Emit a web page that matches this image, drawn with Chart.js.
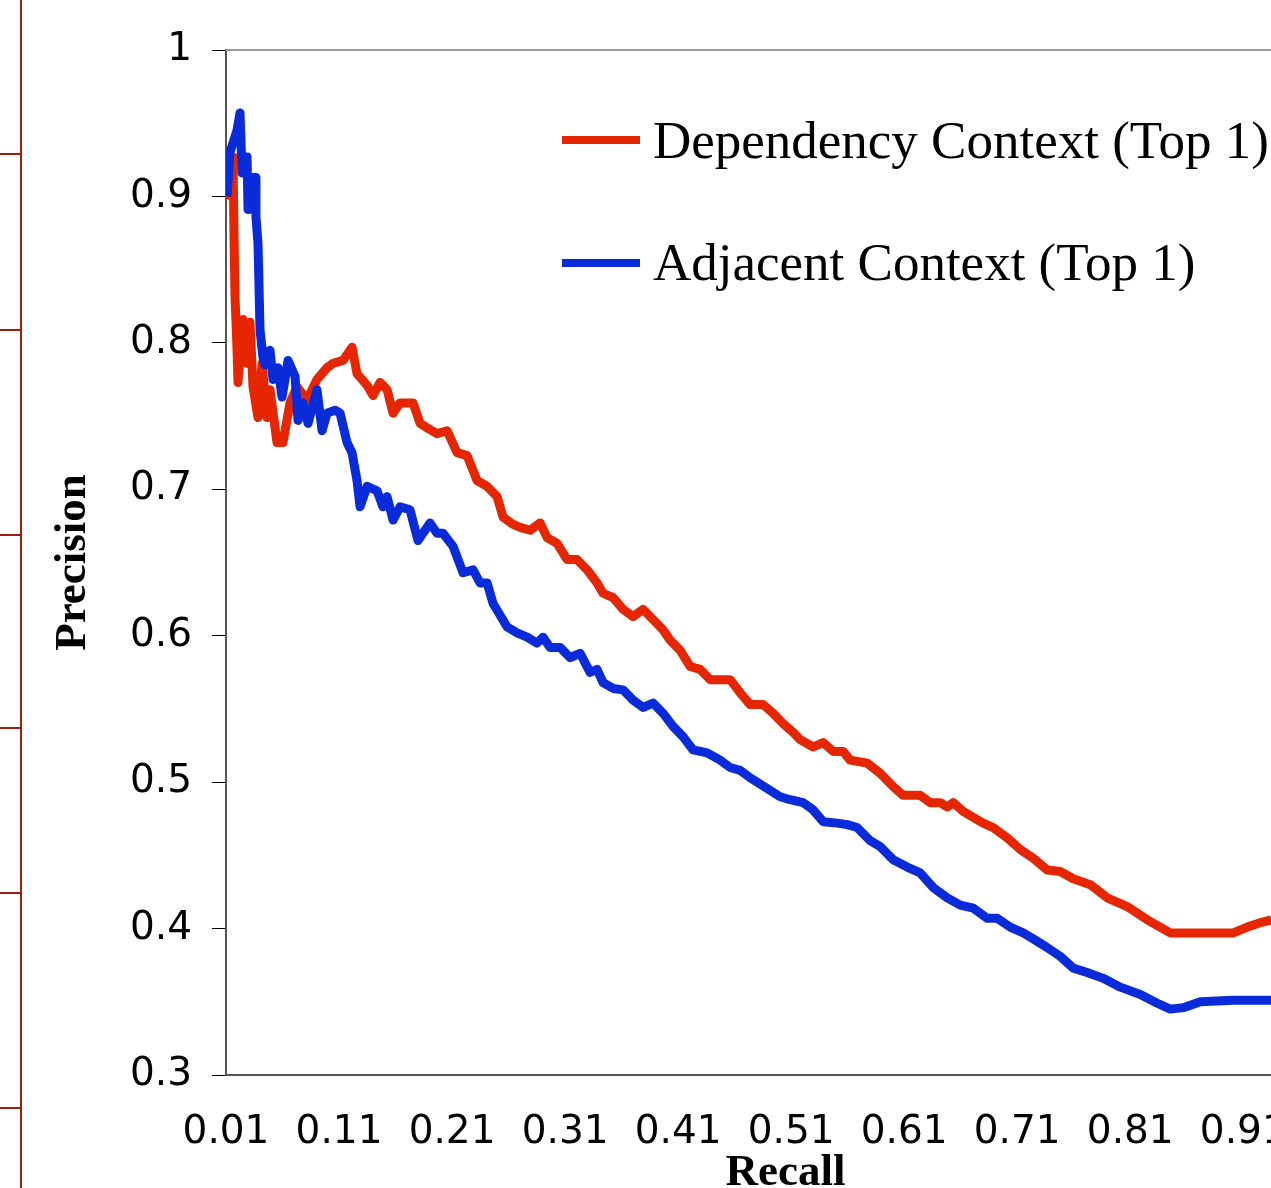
<!DOCTYPE html>
<html>
<head>
<meta charset="utf-8">
<script src="https://cdn.jsdelivr.net/npm/chart.js@4.4.1/dist/chart.umd.min.js"></script>
<style>
  html, body { margin: 0; padding: 0; background: #fff; overflow: hidden; width: 1271px; height: 1188px; }
  #wrap { position: absolute; left: 0; top: 0; width: 1360px; height: 1188px; }
  #c { position: absolute; left: 0; top: 0; }
  .vline { position: absolute; left: 20px; top: 0; width: 2px; height: 1188px; background: #a01e0a; }
  .htick { position: absolute; left: 0; width: 21px; height: 2px; background: #a01e0a; }
  .leg { position: absolute; left: 562px; font-family: "Liberation Serif", "Times New Roman", serif; font-size: 53px; line-height: 1; color: #000; white-space: nowrap; }
  .leg .sw { position: absolute; left: 0; width: 78px; height: 8px; }
  .leg .tx { position: absolute; left: 91px; }
</style>
</head>
<body>
<div class="vline"></div>
<div class="htick" style="top:153px"></div>
<div class="htick" style="top:329px"></div>
<div class="htick" style="top:534px"></div>
<div class="htick" style="top:727px"></div>
<div class="htick" style="top:892px"></div>
<div class="htick" style="top:1107px"></div>
<div id="wrap"><canvas id="c" width="1360" height="1188"></canvas></div>
<div class="leg" style="top:0"><div class="sw" style="top:136px;background:#e62600"></div><div class="tx" id="l1" style="top:114px"></div></div>
<div class="leg" style="top:0"><div class="sw" style="top:259px;background:#0a2bd9"></div><div class="tx" id="l2" style="top:236px"></div></div>
<script>
// ---- data ----
const seriesNames = ["Dependency Context (Top 1)", "Adjacent Context (Top 1)"];
const xTickValues = [0.01, 0.11, 0.21, 0.31, 0.41, 0.51, 0.61, 0.71, 0.81, 0.91];
const yTickValues = [0.3, 0.4, 0.5, 0.6, 0.7, 0.8, 0.9, 1.0];

const depRecall = [0.0109,0.0162,0.0171,0.018,0.0197,0.0206,0.025,0.0286,0.0312,0.0339,0.0383,0.0419,0.0463,0.0489,0.0551,0.0604,0.0666,0.0728,0.0817,0.0905,0.0994,0.1047,0.1135,0.1215,0.1259,0.1348,0.1401,0.1463,0.1525,0.1578,0.164,0.1755,0.1817,0.1879,0.1967,0.2056,0.2144,0.2233,0.2321,0.241,0.2498,0.2551,0.264,0.2702,0.279,0.2879,0.2941,0.3029,0.3118,0.3206,0.3295,0.3383,0.3436,0.3525,0.3613,0.3702,0.379,0.3879,0.3967,0.4029,0.4118,0.4206,0.4295,0.4383,0.4472,0.456,0.4649,0.4737,0.4852,0.4941,0.5029,0.5118,0.518,0.5295,0.5383,0.5472,0.556,0.5622,0.5773,0.5888,0.6003,0.6091,0.6242,0.633,0.6419,0.6481,0.6534,0.6622,0.6711,0.6799,0.6888,0.7012,0.7127,0.7242,0.7366,0.7481,0.7596,0.7746,0.7896,0.8073,0.8251,0.8454,0.9012,0.9135,0.925,0.9348];
const depPrecision = [0.898,0.927,0.872,0.831,0.797,0.773,0.816,0.786,0.814,0.770,0.749,0.786,0.749,0.768,0.732,0.732,0.759,0.770,0.761,0.775,0.783,0.786,0.788,0.797,0.779,0.771,0.764,0.773,0.768,0.752,0.759,0.759,0.745,0.742,0.738,0.740,0.725,0.723,0.706,0.702,0.695,0.681,0.676,0.674,0.672,0.677,0.667,0.663,0.652,0.652,0.645,0.636,0.629,0.626,0.618,0.613,0.618,0.611,0.604,0.597,0.590,0.579,0.577,0.570,0.570,0.570,0.561,0.553,0.553,0.547,0.540,0.534,0.529,0.524,0.527,0.521,0.521,0.515,0.513,0.506,0.497,0.491,0.491,0.486,0.486,0.483,0.486,0.480,0.476,0.472,0.469,0.462,0.454,0.448,0.440,0.439,0.434,0.430,0.421,0.415,0.406,0.397,0.397,0.401,0.404,0.406];

const adjRecall = [0.0109,0.0135,0.0197,0.0224,0.0242,0.0286,0.0295,0.033,0.0357,0.0365,0.0383,0.0401,0.0427,0.0445,0.0489,0.0516,0.056,0.0596,0.0649,0.0711,0.0737,0.0781,0.0826,0.0905,0.095,0.0994,0.1065,0.1109,0.1171,0.1215,0.1259,0.1286,0.1348,0.1436,0.1489,0.1525,0.1578,0.164,0.1728,0.1799,0.1905,0.1967,0.202,0.2109,0.2197,0.2286,0.2348,0.241,0.2463,0.2525,0.2587,0.2675,0.2764,0.2852,0.2905,0.2967,0.3056,0.3144,0.3233,0.3321,0.3383,0.3436,0.3525,0.3613,0.3702,0.379,0.3879,0.3967,0.4056,0.4144,0.4233,0.4357,0.4472,0.456,0.4649,0.4737,0.5003,0.5091,0.5206,0.5295,0.5383,0.5507,0.5596,0.5684,0.5799,0.5888,0.6003,0.6127,0.6242,0.6357,0.6481,0.6596,0.6711,0.6835,0.6923,0.7038,0.7153,0.7242,0.7366,0.7481,0.7596,0.7719,0.7861,0.8012,0.8189,0.8339,0.8454,0.8569,0.872,0.9012,0.9348];
const adjPrecision = [0.900,0.930,0.945,0.957,0.916,0.927,0.891,0.913,0.913,0.886,0.868,0.809,0.790,0.785,0.795,0.775,0.783,0.763,0.788,0.777,0.747,0.759,0.745,0.768,0.740,0.752,0.754,0.752,0.732,0.725,0.706,0.688,0.702,0.699,0.688,0.695,0.679,0.688,0.686,0.665,0.677,0.670,0.670,0.661,0.643,0.645,0.636,0.636,0.622,0.614,0.606,0.602,0.599,0.595,0.599,0.592,0.592,0.585,0.588,0.575,0.577,0.568,0.564,0.563,0.556,0.551,0.554,0.547,0.538,0.531,0.522,0.520,0.515,0.510,0.508,0.503,0.490,0.488,0.486,0.481,0.473,0.472,0.471,0.469,0.460,0.456,0.447,0.442,0.438,0.428,0.421,0.416,0.414,0.407,0.407,0.401,0.397,0.393,0.387,0.381,0.373,0.370,0.366,0.360,0.355,0.349,0.345,0.346,0.350,0.351,0.351];

const seriesColors = ["#e62600", "#0a2bd9"];

// ---- chart ----
const toPts = (xs, ys) => xs.map((x, i) => ({ x: x, y: ys[i] }));

document.getElementById('l1').textContent = seriesNames[0];
document.getElementById('l2').textContent = seriesNames[1];

const topFrame = {
  id: 'topFrame',
  afterDraw(chart) {
    const { ctx, chartArea } = chart;
    ctx.save();
    ctx.strokeStyle = '#9a9a9a';
    ctx.lineWidth = 2;
    ctx.beginPath();
    ctx.moveTo(chartArea.left, chartArea.top);
    ctx.lineTo(chartArea.right, chartArea.top);
    ctx.stroke();
    ctx.restore();
  }
};

new Chart(document.getElementById('c'), {
  type: 'line',
  data: {
    datasets: [
      { label: seriesNames[0], data: toPts(depRecall, depPrecision), borderColor: seriesColors[0], backgroundColor: seriesColors[0], borderWidth: 9, borderJoinStyle: 'round', pointRadius: 0, tension: 0, order: 2 },
      { label: seriesNames[1], data: toPts(adjRecall, adjPrecision), borderColor: seriesColors[1], backgroundColor: seriesColors[1], borderWidth: 9, borderJoinStyle: 'round', pointRadius: 0, tension: 0, order: 1 }
    ]
  },
  options: {
    responsive: false,
    animation: false,
    devicePixelRatio: 1,
    layout: { padding: { top: 50, left: 0, right: 15, bottom: 0 } },
    plugins: { legend: { display: false }, tooltip: { enabled: false } },
    scales: {
      x: {
        type: 'linear',
        min: 0.01,
        max: 1.0,
        afterBuildTicks: s => { s.ticks = xTickValues.map(v => ({ value: v })); },
        afterFit: s => { s.height = 113; s.paddingLeft = 0; s.paddingRight = 0; },
        ticks: { color: '#000', font: { family: 'DejaVu Sans', size: 39 }, padding: 34, maxRotation: 0, autoSkip: false,
                 callback: v => v.toFixed(2) },
        grid: { display: false, drawTicks: false, drawOnChartArea: false },
        border: { display: true, color: '#555555', width: 2 },
        title: { display: true, text: 'Recall', color: '#000', font: { family: 'Liberation Serif', size: 45, weight: 'bold', lineHeight: 0.667 }, padding: 0 }
      },
      y: {
        type: 'linear',
        min: 0.3,
        max: 1,
        afterBuildTicks: s => { s.ticks = yTickValues.map(v => ({ value: v })); },
        afterFit: s => { s.width = 226; s.paddingTop = 0; s.paddingBottom = 0; },
        ticks: { color: '#000', font: { family: 'DejaVu Sans', size: 39 }, padding: 20,
                 callback: v => String(Number(v.toFixed(1))) },
        grid: { display: true, drawOnChartArea: false, drawTicks: true, tickLength: 14, color: '#000', lineWidth: 1 },
        border: { display: true, color: '#555555', width: 2 },
        title: { display: true, text: 'Precision', color: '#000', font: { family: 'Liberation Serif', size: 45, weight: 'bold' }, padding: { top: 46, bottom: 0 } }
      }
    }
  },
  plugins: [topFrame]
});
</script>
</body>
</html>
